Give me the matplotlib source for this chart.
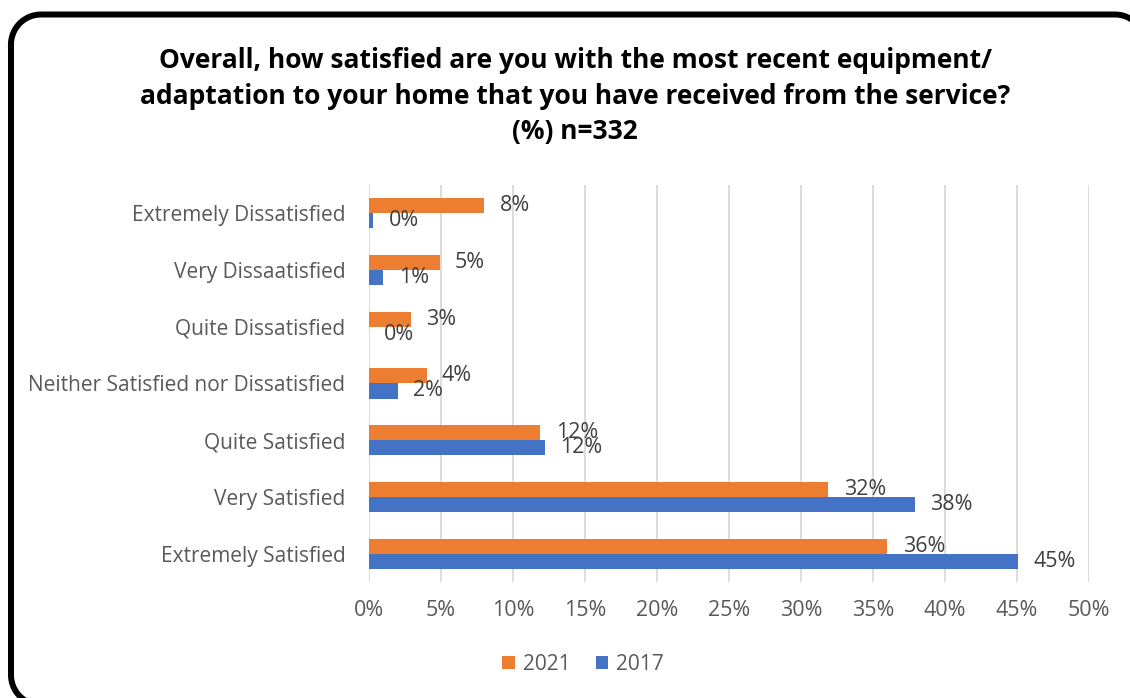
import matplotlib.pyplot as plt
from matplotlib.ticker import PercentFormatter
import numpy as np

categories = [
    "Extremely Dissatisfied",
    "Very Dissaatisfied",
    "Quite Dissatisfied",
    "Neither Satisfied nor Dissatisfied",
    "Quite Satisfied",
    "Very Satisfied",
    "Extremely Satisfied",
]
share_2021 = [8.0, 4.9, 2.9, 4.0, 11.9, 31.9, 36.0]
share_2017 = [0.3, 1.0, 0.0, 2.0, 12.2, 37.9, 45.1]
years = ["2021", "2017"]

title = ("Overall, how satisfied are you with the most recent equipment/\n"
         "adaptation to your home that you have received from the service?\n"
         "(%) n=332")


def rounded_outline(x0, y0, x1, y1, r, n=20):
    # corners in order: top-left, top-right, bottom-right, bottom-left (y grows downward)
    xs, ys = [], []
    for cx, cy, a0 in [(x0 + r, y0 + r, 180), (x1 - r, y0 + r, 270),
                       (x1 - r, y1 - r, 0), (x0 + r, y1 - r, 90)]:
        t = np.radians(np.linspace(a0, a0 + 90, n))
        xs.extend(cx + r * np.cos(t))
        ys.extend(cy + r * np.sin(t))
    xs.append(xs[0])
    ys.append(ys[0])
    return xs, ys


def main():
    plt.rcParams.update({
        "font.family": ["Open Sans", "DejaVu Sans"],
        "figure.facecolor": "#FFFFFF",
        "axes.facecolor": "#FFFFFF",
    })
    orange = "#ED7D31"
    blue = "#4472C4"

    fig = plt.figure(figsize=(11.3, 6.98), dpi=100)

    # full-figure layer in pixel units for the rounded frame
    bg = fig.add_axes([0, 0, 1, 1])
    bg.set_xlim(0, 1130)
    bg.set_ylim(698, 0)
    bg.axis("off")
    fx, fy = rounded_outline(11, 14.5, 1145, 705, 30)
    bg.plot(fx, fy, color="#000000", linewidth=4.3, clip_on=False,
            solid_joinstyle="round")

    ax = fig.add_axes([0.3265, 0.1662, 0.6372, 0.5688])

    y = np.arange(len(categories))
    h = 0.265
    b21 = ax.barh(y - h / 2, share_2021, height=h, color=orange, label=years[0])
    b17 = ax.barh(y + h / 2, share_2017, height=h, color=blue, label=years[1])
    for bars in (b21, b17):
        ax.bar_label(bars, fmt="%.0f%%", padding=11, fontsize=15.5, color="#404040")

    ax.set_xlim(0, 50)
    ax.set_ylim(len(categories) - 0.5, -0.5)
    ax.set_xticks(np.arange(0, 51, 5))
    ax.xaxis.set_major_formatter(PercentFormatter(decimals=0))
    ax.set_yticks(y)
    ax.set_yticklabels(categories)
    ax.tick_params(axis="x", length=0, pad=13, labelsize=15.5, labelcolor="#595959")
    ax.tick_params(axis="y", length=0, pad=17, labelsize=15, labelcolor="#595959")
    ax.grid(axis="x", color="#D9D9D9", linewidth=1.3)
    ax.set_axisbelow(True)
    for s in ax.spines.values():
        s.set_visible(False)

    fig.text(0.509, 1 - 96 / 698, title, ha="center", va="center", fontsize=19,
             fontweight="bold", color="#000000", linespacing=1.42)

    fig.legend(handles=[b21, b17], labels=years, loc="center",
               bbox_to_anchor=(0.516, 1 - 664 / 698), ncol=2, frameon=False,
               fontsize=15, labelcolor="#595959", handlelength=0.6,
               handleheight=0.6, handletextpad=0.4, columnspacing=1.2)

    fig.savefig("out.png", dpi=100)
    plt.close(fig)


if __name__ == "__main__":
    main()
